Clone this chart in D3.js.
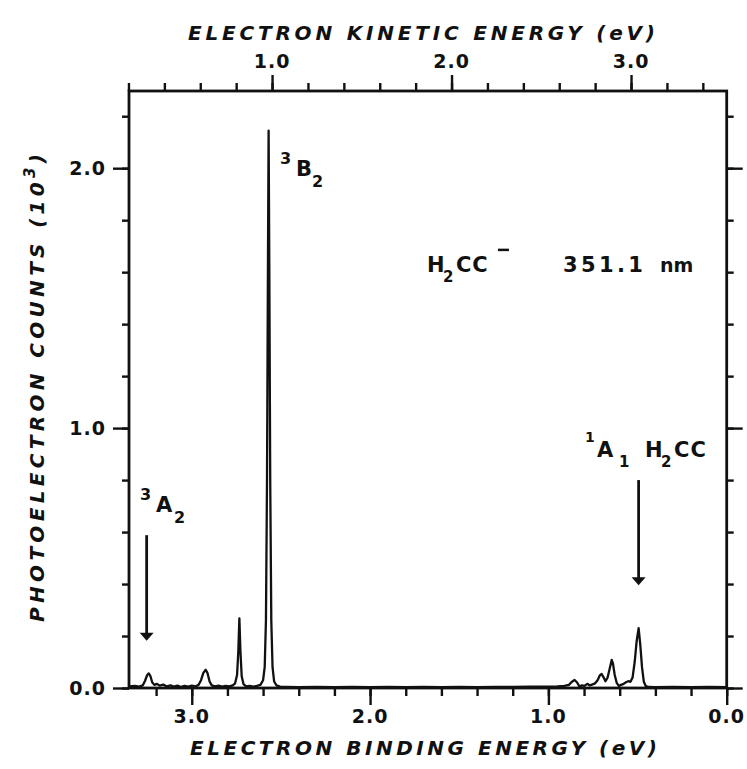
<!DOCTYPE html>
<html><head><meta charset="utf-8">
<script src="https://cdn.jsdelivr.net/npm/d3@7"></script>
<style>body{margin:0;background:#fff} svg{display:block}</style>
</head><body>
<svg id="chart" width="747" height="769"></svg>
<script>
// ---- data ----
const bindingEnergy = [
 3.352,3.320,3.295,3.275,3.262,3.250,3.241,3.232,3.222,3.210,3.195,3.180,3.160,3.140,3.120,3.100,3.080,3.060,3.040,3.020,
 3.000,2.980,2.962,2.948,2.935,2.922,2.912,2.900,2.888,2.870,2.850,2.830,2.810,2.790,2.770,2.757,2.746,2.739,2.733,2.727,
 2.720,2.710,2.695,2.675,2.655,2.635,2.615,2.600,2.591,2.584,2.578,2.573,2.569,2.565,2.560,2.554,2.547,2.538,2.525,2.505,
 2.470,2.400,2.300,2.200,2.100,2.000,1.900,1.800,1.700,1.600,1.500,1.400,1.300,1.200,1.100,1.000,0.950,0.910,0.885,0.868,
 0.853,0.840,0.826,0.812,0.798,0.782,0.768,0.752,0.738,0.724,0.712,0.701,0.690,0.680,0.668,0.656,0.645,0.638,0.628,0.617,
 0.605,0.592,0.578,0.565,0.552,0.540,0.528,0.516,0.505,0.494,0.485,0.475,0.465,0.455,0.440,0.400,0.300,0.200,0.100,0.000];
const counts = [
 0.006,0.008,0.005,0.010,0.028,0.050,0.056,0.046,0.022,0.012,0.016,0.009,0.013,0.006,0.010,0.005,0.009,0.004,0.008,0.005,
 0.009,0.006,0.012,0.030,0.058,0.070,0.058,0.025,0.010,0.006,0.009,0.005,0.008,0.006,0.010,0.018,0.050,0.140,0.268,0.140,
 0.045,0.015,0.006,0.008,0.005,0.008,0.012,0.030,0.080,0.260,0.800,1.600,2.144,1.600,0.800,0.260,0.080,0.025,0.010,0.005,
 0.004,0.003,0.004,0.003,0.004,0.003,0.004,0.003,0.004,0.003,0.004,0.003,0.004,0.004,0.005,0.005,0.006,0.008,0.012,0.024,
 0.031,0.022,0.006,0.010,0.008,0.016,0.010,0.014,0.018,0.030,0.048,0.054,0.040,0.026,0.040,0.075,0.108,0.095,0.050,0.020,
 0.008,0.012,0.016,0.022,0.026,0.024,0.040,0.100,0.180,0.230,0.170,0.080,0.025,0.008,0.004,0.003,0.004,0.003,0.004,0.003];

const bottomMajor = [3.0, 2.0, 1.0, 0.0];
const bottomLabels = ["3.0", "2.0", "1.0", "0.0"];
const topMajor = [1.0, 2.0, 3.0];
const topLabels = ["1.0", "2.0", "3.0"];
const leftMajor = [0.0, 1.0, 2.0];
const leftLabels = ["0.0", "1.0", "2.0"];

// arrows: binding energy, start count, tip count
const arrowBE = [3.253, 0.494];
const arrowFrom = [0.588, 0.800];
const arrowTo = [0.182, 0.395];

// ---- layout ----
const L = 129, R = 726.7, T = 91, B = 688;
const svg = d3.select("#chart");
const FONT = "'DejaVu Sans', sans-serif";

const x = d3.scaleLinear().domain([3.352, 0]).range([L, R]);
const xTop = d3.scaleLinear().domain([0.203, 3.533]).range([L, R]);
const y = d3.scaleLinear().domain([0, 2.297]).range([B, T]);

function minorVals(lo, hi) { const a = []; for (let v = lo; v <= hi + 1e-9; v += 0.2) a.push(+v.toFixed(2)); return a; }

function styleAxis(g) {
  g.select(".domain").remove();
  g.selectAll(".tick line").attr("stroke", "#111").attr("stroke-width", 2.4);
  g.selectAll(".tick text").remove();
}
// bottom
svg.append("g").attr("transform", `translate(0,${B})`)
  .call(d3.axisBottom(x).tickValues(minorVals(0, 3.2)).tickSize(8)).call(styleAxis);
svg.append("g").attr("transform", `translate(0,${B})`)
  .call(d3.axisBottom(x).tickValues(bottomMajor).tickSize(17)).call(styleAxis);
// top
svg.append("g").attr("transform", `translate(0,${T})`)
  .call(d3.axisTop(xTop).tickValues(minorVals(0.2, 3.4)).tickSize(8)).call(styleAxis);
svg.append("g").attr("transform", `translate(0,${T})`)
  .call(d3.axisTop(xTop).tickValues(topMajor).tickSize(16)).call(styleAxis);
// left
svg.append("g").attr("transform", `translate(${L},0)`)
  .call(d3.axisLeft(y).tickValues(minorVals(0, 2.2)).tickSize(7)).call(styleAxis);
svg.append("g").attr("transform", `translate(${L},0)`)
  .call(d3.axisLeft(y).tickValues(leftMajor).tickSize(16)).call(styleAxis);
// right
svg.append("g").attr("transform", `translate(${R},0)`)
  .call(d3.axisRight(y).tickValues(minorVals(0, 2.2)).tickSize(7)).call(styleAxis);
svg.append("g").attr("transform", `translate(${R},0)`)
  .call(d3.axisRight(y).tickValues(leftMajor).tickSize(16)).call(styleAxis);

// frame
svg.append("rect").attr("x", L).attr("y", T).attr("width", R - L).attr("height", B - T)
  .attr("fill", "none").attr("stroke", "#111").attr("stroke-width", 2.8);

// tick labels
const tl = { "font-family": FONT, "font-weight": "bold", "font-size": 19, "fill": "#111", "letter-spacing": 1 };
function applyAttrs(sel, o) { for (const k in o) sel.attr(k, o[k]); return sel; }
bottomMajor.forEach((v, i) => applyAttrs(svg.append("text"), tl)
  .attr("x", x(v)).attr("y", 723).attr("text-anchor", "middle").text(bottomLabels[i]));
topMajor.forEach((v, i) => applyAttrs(svg.append("text"), tl)
  .attr("x", xTop(v)).attr("y", 68).attr("text-anchor", "middle").text(topLabels[i]));
leftMajor.forEach((v, i) => applyAttrs(svg.append("text"), tl)
  .attr("x", 106).attr("y", y(v) + 7).attr("text-anchor", "end").text(leftLabels[i]));

// axis titles
const tt = { "font-family": FONT, "font-weight": "bold", "font-style": "italic", "font-size": 20, "fill": "#111" };
applyAttrs(svg.append("text"), tt).attr("x", 188).attr("y", 40)
  .attr("textLength", 467).attr("lengthAdjust", "spacing").text("ELECTRON KINETIC ENERGY  (eV)");
applyAttrs(svg.append("text"), tt).attr("x", 190).attr("y", 755)
  .attr("textLength", 467).attr("lengthAdjust", "spacing").text("ELECTRON BINDING ENERGY  (eV)");
const yt = applyAttrs(svg.append("text"), tt).attr("transform", "translate(44,622) rotate(-90)");
yt.append("tspan").text("PHOTOELECTRON COUNTS  (10");
yt.append("tspan").attr("dy", -9).attr("font-size", 15).text("3");
yt.append("tspan").attr("dy", 9).text(")");
yt.attr("textLength", 468).attr("lengthAdjust", "spacing");

// spectrum
const pts = bindingEnergy.map((e, i) => [e, counts[i]]);
svg.append("path").datum(pts)
  .attr("fill", "none").attr("stroke", "#111").attr("stroke-width", 2.3).attr("stroke-linejoin", "round")
  .attr("d", d3.line().x(d => x(d[0])).y(d => y(d[1])));

// arrows
arrowBE.forEach((e, i) => {
  const ax = x(e), y0 = y(arrowFrom[i]), y1 = y(arrowTo[i]);
  svg.append("line").attr("x1", ax).attr("x2", ax).attr("y1", y0).attr("y2", y1 - 6)
    .attr("stroke", "#111").attr("stroke-width", 2.8);
  svg.append("path").attr("d", `M${ax - 7},${y1 - 8} L${ax + 7},${y1 - 8} L${ax},${y1} Z`).attr("fill", "#111");
});

// annotations
const an = { "font-family": FONT, "font-weight": "bold", "fill": "#111" };
function label(px, py, sup, main, sub, subDx) {
  applyAttrs(svg.append("text"), an).attr("font-size", 16).attr("x", px - 16).attr("y", py - 12).text(sup);
  applyAttrs(svg.append("text"), an).attr("font-size", 21).attr("x", px).attr("y", py).text(main);
  applyAttrs(svg.append("text"), an).attr("font-size", 16).attr("x", px + subDx).attr("y", py + 11).text(sub);
}
label(x(2.4156), y(1.970), "3", "B", "2", 16);
label(x(3.201), y(0.677), "3", "A", "2", 18);
// 1A1 H2CC
(function () {
  const px = x(0.727), py = y(0.889);
  applyAttrs(svg.append("text"), an).attr("font-size", 14).attr("x", px - 12).attr("y", py - 15).text("1");
  applyAttrs(svg.append("text"), an).attr("font-size", 21).attr("x", px).attr("y", py).text("A");
  applyAttrs(svg.append("text"), an).attr("font-size", 15).attr("x", px + 22).attr("y", py + 10).text("1");
  applyAttrs(svg.append("text"), an).attr("font-size", 21).attr("x", px + 48).attr("y", py).text("H");
  applyAttrs(svg.append("text"), an).attr("font-size", 15).attr("x", px + 64).attr("y", py + 10).text("2");
  applyAttrs(svg.append("text"), an).attr("font-size", 21).attr("x", px + 77).attr("y", py)
    .attr("letter-spacing", 1).text("CC");
})();
// H2CC- 351.1 nm
(function () {
  const px = x(1.681), py = y(1.601);
  applyAttrs(svg.append("text"), an).attr("font-size", 21).attr("x", px).attr("y", py).text("H");
  applyAttrs(svg.append("text"), an).attr("font-size", 15).attr("x", px + 16).attr("y", py + 10).text("2");
  applyAttrs(svg.append("text"), an).attr("font-size", 21).attr("x", px + 29).attr("y", py)
    .attr("letter-spacing", 1).text("CC");
  svg.append("line").attr("x1", px + 71).attr("x2", px + 82).attr("y1", py - 22).attr("y2", py - 22)
    .attr("stroke", "#111").attr("stroke-width", 2.5);
  applyAttrs(svg.append("text"), an).attr("font-size", 21).attr("x", px + 136).attr("y", py)
    .attr("textLength", 80).attr("lengthAdjust", "spacing").text("351.1");
  applyAttrs(svg.append("text"), an).attr("font-size", 19).attr("x", px + 233).attr("y", py)
    .text("nm");
})();
</script>
</body></html>
